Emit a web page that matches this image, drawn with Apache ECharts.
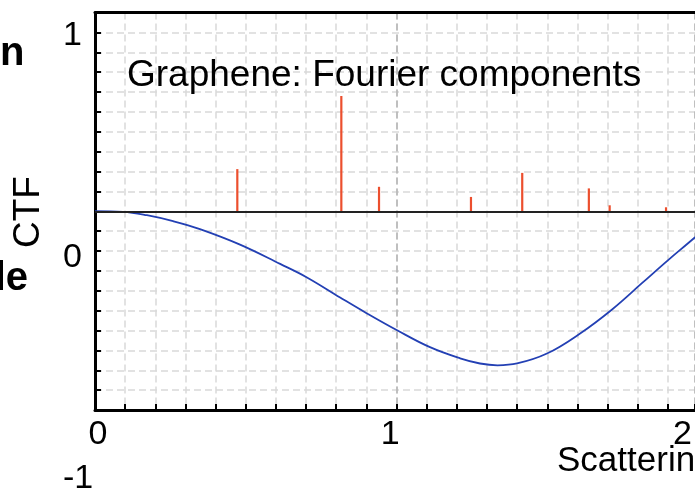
<!DOCTYPE html>
<html>
<head>
<meta charset="utf-8">
<title>Graphene: Fourier components</title>
<script src="https://cdn.jsdelivr.net/npm/echarts@6/dist/echarts.min.js"></script>
<style>
  html, body { margin: 0; padding: 0; background: #fff; }
  #chart { width: 695px; height: 496px; }
</style>
</head>
<body>
<div id="chart"></div>
<script>
// Fourier components of graphene: spatial frequency and relative amplitude
const stemFreq   = [0.472, 0.817, 0.942, 1.247, 1.417, 1.638, 1.707, 1.894];
const stemAmp    = [0.212, 0.580, 0.123, 0.072, 0.193, 0.115, 0.030, 0.020];

// Contrast transfer function sampled along the scattering axis
const ctfFreq = [0.000, 0.093, 0.172, 0.259, 0.348, 0.481, 0.614, 0.703, 0.813, 0.902,
                 1.002, 1.111, 1.211, 1.277, 1.335, 1.400, 1.499, 1.609, 1.715, 1.814,
                 1.900, 1.967, 2.030];
const ctfValue = [0.000, -0.003, -0.020, -0.050, -0.090, -0.168, -0.265, -0.333, -0.434, -0.514,
                  -0.599, -0.684, -0.740, -0.766, -0.775, -0.766, -0.716, -0.615, -0.494, -0.362,
                  -0.247, -0.161, -0.080];

// Tick labels
const xTickLabels = [0, 1, 2];
const yTickLabels = [1, 0, -1];

const titleText = 'Graphene: Fourier components';
const yName = 'CTF';
const xName = 'Scattering';

const FONT = "'Liberation Sans', Arial, Helvetica, sans-serif";
const PLOT_LEFT = 95;
const PLOT_WIDTH = 600;          // plotting area runs to the right edge of the canvas
const PX_PER_UNIT = 301.5;
const X_MAX = PLOT_WIDTH / PX_PER_UNIT;

const chart = echarts.init(document.getElementById('chart'), null, { renderer: 'canvas' });

const lightDash = { color: '#d9d9d9', width: 1.5, type: [7, 4] };
const darkDash  = { color: '#b4b4b4', width: 1.5, type: [7, 4] };

const option = {
  animation: false,
  backgroundColor: '#fff',
  grid: [
    // plotting area
    { left: PLOT_LEFT, top: 12.5, width: PLOT_WIDTH, height: 397.5, containLabel: false },
    // vertical tick-label scale
    { left: 95, top: 36, width: 100, height: 446, containLabel: false },
    // horizontal tick-label scale
    { left: 98, top: 0, width: 588, height: 434.5, containLabel: false }
  ],
  xAxis: [
    {
      gridIndex: 0, type: 'value', min: 0, max: X_MAX, interval: 0.1,
      axisLine: { show: true, onZero: false, lineStyle: { color: '#000', width: 3 } },
      axisTick: { show: true, inside: true, length: 6, lineStyle: { color: '#000', width: 2 } },
      axisLabel: { show: false },
      splitLine: { show: true, lineStyle: lightDash }
    },
    {
      gridIndex: 0, type: 'value', position: 'top', min: 0, max: X_MAX, interval: 1,
      axisLine: { show: true, onZero: false, lineStyle: { color: '#000', width: 3 } },
      axisTick: { show: false },
      axisLabel: { show: false },
      splitLine: { show: true, lineStyle: darkDash }
    },
    {
      gridIndex: 1, type: 'value', min: 0, max: 1, show: false
    },
    {
      gridIndex: 2, type: 'value', min: 0, max: 2, interval: 1,
      axisLine: { show: false }, axisTick: { show: false }, splitLine: { show: false },
      axisLabel: {
        show: true, margin: 0, verticalAlign: 'middle',
        showMinLabel: true, showMaxLabel: true,
        fontFamily: FONT, fontSize: 34, color: '#000',
        formatter: v => (xTickLabels.indexOf(v) >= 0 ? String(v) : '')
      }
    }
  ],
  yAxis: [
    {
      gridIndex: 0, type: 'value', min: -1, max: 1, interval: 0.1,
      axisLine: { show: true, onZero: false, lineStyle: { color: '#000', width: 3 } },
      axisTick: { show: true, inside: true, length: 6, lineStyle: { color: '#000', width: 2 } },
      axisLabel: { show: false },
      splitLine: { show: true, lineStyle: lightDash }
    },
    {
      gridIndex: 1, type: 'value', min: -1, max: 1, interval: 1,
      axisLine: { show: false }, axisTick: { show: false }, splitLine: { show: false },
      axisLabel: {
        show: true, margin: 32, align: 'left',
        showMinLabel: true, showMaxLabel: true,
        fontFamily: FONT, fontSize: 34, color: '#000',
        formatter: v => (yTickLabels.indexOf(v) >= 0 ? String(v) : '')
      }
    },
    {
      gridIndex: 2, type: 'value', min: 0, max: 1, show: false
    }
  ],
  series: [
    {
      name: 'Fourier components',
      type: 'bar',
      xAxisIndex: 0, yAxisIndex: 0,
      barWidth: 2.2,
      z: 2,
      itemStyle: { color: '#ec4f2e' },
      data: stemFreq.map((f, i) => [f, stemAmp[i]]),
      markLine: {
        silent: true, symbol: 'none', animation: false,
        label: { show: false },
        lineStyle: { color: '#222', width: 2, type: 'solid' },
        data: [{ yAxis: 0 }]
      }
    },
    {
      name: 'CTF',
      type: 'line',
      xAxisIndex: 0, yAxisIndex: 0,
      z: 4,
      symbol: 'none',
      smooth: 0.4,
      clip: true,
      lineStyle: { color: '#2340b4', width: 1.8 },
      data: ctfFreq.map((f, i) => [f, ctfValue[i]])
    }
  ],
  graphic: [
    {
      type: 'text', x: 127, y: 76, z: 10,
      style: { text: titleText, font: `37px ${FONT}`, fill: '#000', align: 'left', verticalAlign: 'middle' }
    },
    {
      type: 'text', x: 28.5, y: 212, rotation: Math.PI / 2, z: 10,
      style: { text: yName, font: `37px ${FONT}`, fill: '#000', align: 'center', verticalAlign: 'middle' }
    },
    {
      type: 'text', x: 557, y: 461, z: 10,
      style: { text: xName, font: `35px ${FONT}`, fill: '#000', align: 'left', verticalAlign: 'middle' }
    },
    {
      type: 'text', x: 24.5, y: 54, z: 10,
      style: { text: 'n', font: `bold 40px ${FONT}`, fill: '#000', align: 'right', verticalAlign: 'middle' }
    },
    {
      type: 'text', x: 28, y: 279, z: 10,
      style: { text: 'le', font: `bold 40px ${FONT}`, fill: '#000', align: 'right', verticalAlign: 'middle' }
    }
  ]
};

chart.setOption(option);
</script>
</body>
</html>
